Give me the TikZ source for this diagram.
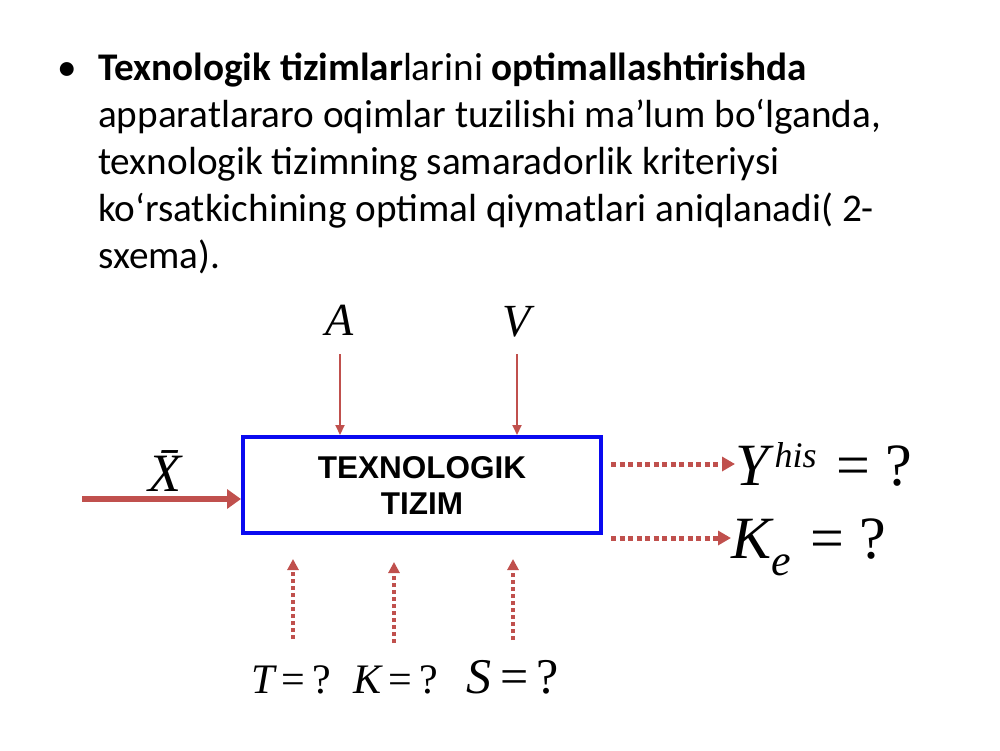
\documentclass[tikz,border=0pt]{standalone}
\usepackage{fontspec}
\setmainfont{Carlito}
\newfontfamily\tms{Liberation Serif}
\newfontfamily\arl{Liberation Sans}
\usetikzlibrary{arrows.meta}
\definecolor{arrred}{HTML}{C0504D}
\definecolor{boxblue}{HTML}{0A0AF0}
\tikzset{
  txt/.style={anchor=base west, inner sep=0pt, font=\fontsize{39.2}{47}\selectfont},
  sysbox/.style={draw=boxblue, line width=4pt, minimum width=358pt, minimum height=96pt, inner sep=0pt, align=center, font=\arl\bfseries\fontsize{31.5}{38}\selectfont},
  thinarr/.style={draw=arrred, line width=2pt, -{Triangle[length=10pt,width=9pt]}},
  thickarr/.style={draw=arrred, line width=6pt, -{Triangle[length=14pt,width=19pt]}},
  dotarr/.style={draw=arrred, line width=5pt, dash pattern=on 5pt off 3.5pt, -{Triangle[length=13pt,width=14pt,fill=arrred]}},
  dotarrv/.style={draw=arrred, line width=4pt, dash pattern=on 4pt off 3pt, -{Triangle[length=11pt,width=11pt,fill=arrred]}},
  mth/.style={inner sep=0pt, font=\tms\fontsize{46}{50}\selectfont},
  mthbig/.style={inner sep=0pt, anchor=base west, font=\tms\fontsize{60}{64}\selectfont},
  mthsm/.style={inner sep=0pt, anchor=base, font=\tms\fontsize{42}{46}\selectfont},
}
\begin{document}
\begin{tikzpicture}[x=1pt,y=-1pt]
\useasboundingbox (0,0) rectangle (1000,750);
% bullet text
\node[txt] (b) at (57,80) {•};
\node[txt] (l1) at (98,80) {\textbf{Texnologik tizimlar}larini \textbf{optimallashtirishda}};
\node[txt] (l2) at (98,127) {apparatlararo oqimlar tuzilishi ma’lum bo‘lganda,};
\node[txt] (l3) at (98,174) {texnologik tizimning samaradorlik kriteriysi};
\node[txt] (l4) at (98,221) {ko‘rsatkichining optimal qiymatlari aniqlanadi( 2-};
\node[txt] (l5) at (98,268) {sxema).};
% system box
\node[sysbox] (sys) at (422,485) {TEXNOLOGIK\\[-2pt]TIZIM};
% inputs A, V
\node[mth] (A) at (340,320) {\itshape A};
\node[mth] (V) at (517,322) {\itshape V};
\coordinate (a1) at (340,354);
\coordinate (v1) at (517,354);
\draw[thinarr] (a1) -- (a1 |- sys.north);
\draw[thinarr] (v1) -- (v1 |- sys.north);
% input X
\node[mth, font=\tms\fontsize{54}{58}\selectfont] (X) at (165,471) {\itshape\=X};
\coordinate (x1) at (82,499);
\draw[thickarr] (x1) -- (x1 -| sys.west);
% outputs
\coordinate (o1) at (611,464);
\coordinate (o2) at (611,538);
\node[mthbig] (Y) at (735,485) {\itshape Y\raisebox{18pt}{\fontsize{36}{40}\selectfont\,his}\,\,\upshape = ?};
\node[mthbig] (Ke) at (731,558) {\itshape K\raisebox{-17pt}{\fontsize{44}{46}\selectfont e}\,\,\upshape = ?};
\draw[dotarr] (o1) -- (Y.west |- o1);
\draw[dotarr] (o2) -- (Ke.west |- o2);
% bottom inputs
\node[mthsm] (T) at (291,693) {\itshape T\,\upshape=\,?};
\node[mthsm] (K) at (396,693) {\itshape K\,\upshape=\,?};
\node[mthsm, font=\tms\fontsize{50}{54}\selectfont] (S) at (513,693) {\itshape S\,\upshape=\,?};
\coordinate (t1) at (293,639);
\coordinate (k1) at (394,643);
\coordinate (s1) at (513,640);
\draw[dotarrv] (t1) -- (293,559);
\draw[dotarrv] (k1) -- (394,562);
\draw[dotarrv] (s1) -- (513,559);
\end{tikzpicture}
\end{document}
